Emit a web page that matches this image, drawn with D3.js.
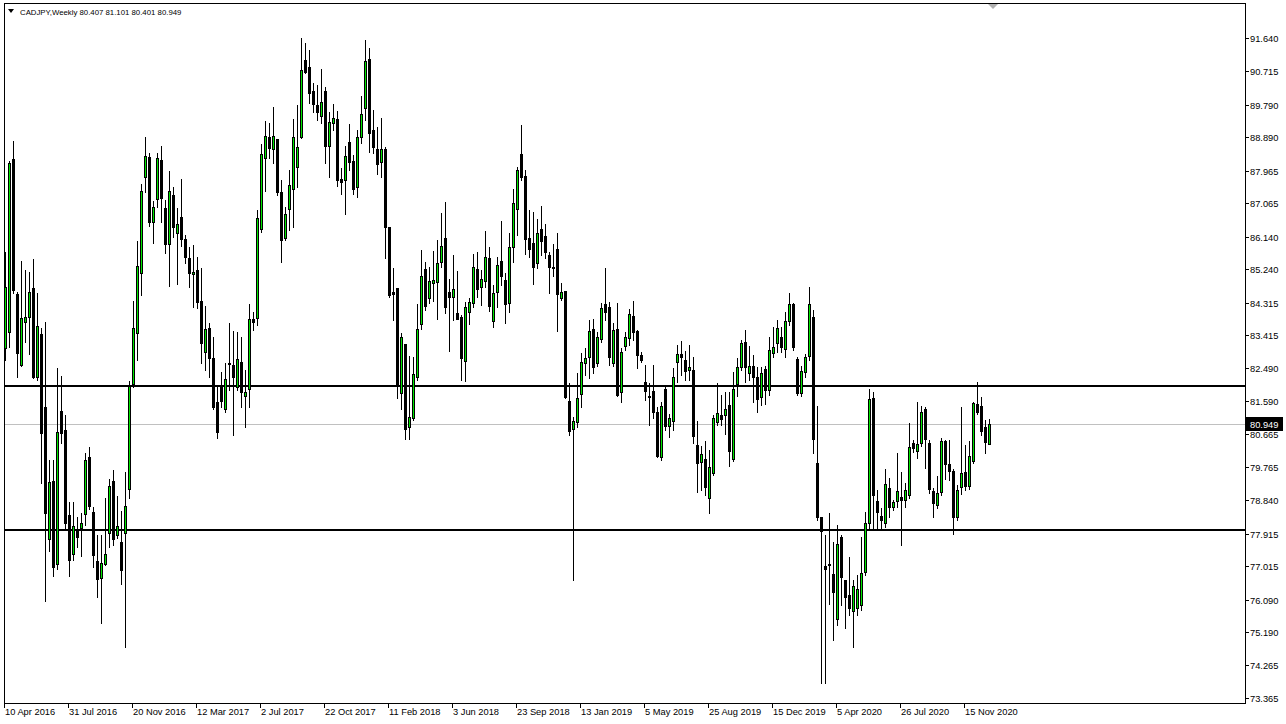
<!DOCTYPE html>
<html><head><meta charset="utf-8">
<script src="https://cdn.jsdelivr.net/npm/d3@7"></script>
<style>html,body{margin:0;padding:0;background:#fff;overflow:hidden}</style>
</head><body>
<svg id="c" width="1286" height="724"></svg>
<script>
const symbolTitle = "CADJPY,Weekly";
const open = [
83.06,83.50,88.29,84.55,82.59,83.78,83.91,84.72,82.25,83.44,
81.42,77.77,79.37,77.08,81.31,80.79,78.43,77.35,78.05,78.07,
78.46,80.04,78.52,77.16,76.69,77.08,77.93,79.37,77.88,77.69,
77.93,79.15,82.06,83.47,85.13,87.79,88.35,86.55,87.18,88.26,
86.93,85.94,87.29,86.24,86.68,86.07,85.55,85.11,85.22,84.36,
82.95,83.61,82.78,81.56,81.98,81.37,82.64,82.59,81.98,82.67,
81.73,81.92,83.86,83.89,86.35,88.32,88.90,88.57,88.84,87.38,
86.10,86.91,87.46,88.07,88.90,91.03,90.84,90.17,89.79,89.48,
90.17,88.65,89.29,89.40,87.74,87.71,88.76,88.23,87.51,88.90,
89.70,91.06,89.09,88.57,88.21,88.57,86.41,84.61,84.72,81.81,
83.17,80.87,81.12,82.25,83.72,85.24,84.44,84.86,84.88,85.44,
86.10,84.61,84.47,84.03,83.91,82.70,84.05,84.30,85.24,84.75,
84.91,85.55,83.80,84.61,85.47,84.94,84.30,85.85,86.91,88.43,
87.82,86.10,85.96,85.41,86.35,86.16,85.63,85.30,85.80,84.44,
84.63,81.59,80.81,81.01,81.78,82.64,82.81,83.58,82.64,83.31,
84.27,84.19,82.64,83.58,81.84,83.11,83.33,83.94,83.53,82.86,
82.12,81.73,81.87,81.28,80.04,81.92,80.90,81.03,82.67,82.89,
82.72,82.45,82.45,80.37,79.90,79.98,78.90,79.59,81.01,81.20,
81.20,81.48,79.98,82.06,82.53,83.22,82.36,82.56,82.25,81.70,
82.47,81.89,82.92,83.19,83.36,83.03,83.80,84.27,82.75,81.81,
82.39,82.83,83.91,79.87,78.38,77.02,77.08,76.80,75.55,77.82,
76.63,76.22,75.77,75.86,75.94,76.85,78.21,81.67,78.82,78.40,
78.21,79.18,78.65,78.82,78.93,78.85,78.99,80.43,80.20,80.43,
81.37,80.43,79.10,78.71,79.07,80.48,79.84,79.65,78.38,79.21,
79.62,79.24,79.93,81.51,81.45,80.87,80.407];
const high = [
85.72,88.23,88.79,84.61,85.47,85.22,85.16,85.52,84.58,83.61,
83.78,79.96,79.96,82.50,82.28,81.20,78.79,78.79,78.38,78.49,
80.15,80.32,78.65,77.88,77.88,78.90,79.43,79.68,78.96,78.54,
79.62,82.14,84.36,86.02,87.60,88.90,88.46,87.13,88.46,88.65,
87.15,87.96,87.51,86.93,87.74,86.19,85.85,85.91,85.58,85.27,
84.22,83.75,83.36,81.98,82.39,82.64,83.75,83.53,83.50,83.36,
82.45,84.27,84.05,86.88,88.70,89.34,89.29,89.73,88.85,87.71,
86.96,87.99,89.40,89.79,91.64,91.50,91.31,90.39,90.34,90.78,
90.28,89.59,89.81,89.62,88.04,88.65,89.26,88.40,89.09,90.03,
91.58,91.36,89.65,89.18,89.42,88.62,86.42,85.27,84.73,83.47,
83.18,82.84,82.81,84.27,85.77,85.44,85.30,85.74,86.05,86.79,
87.10,84.97,85.63,85.19,83.97,84.33,84.44,85.66,85.72,85.22,
86.30,85.85,84.80,85.58,86.57,85.13,86.24,87.46,88.07,89.23,
87.99,86.88,86.82,86.63,86.99,86.49,85.72,85.94,86.24,84.86,
84.64,82.09,81.15,82.36,82.92,83.06,83.83,83.86,83.50,84.30,
85.27,84.33,83.75,84.30,83.06,83.50,84.14,84.36,83.56,82.95,
82.59,82.09,82.59,81.42,81.56,81.98,81.23,82.50,83.14,83.25,
82.97,83.14,82.81,81.03,80.34,80.48,80.23,81.20,82.09,81.76,
81.84,81.84,82.39,82.78,83.28,83.55,83.11,82.86,82.53,82.53,
82.56,83.36,83.64,83.83,83.64,84.05,84.58,84.30,82.81,82.56,
82.89,84.75,84.11,81.45,78.39,77.88,78.49,77.69,78.16,77.88,
76.64,77.27,76.63,76.77,77.82,78.52,81.92,81.84,79.12,78.63,
79.71,79.46,78.85,80.15,79.62,79.32,80.98,80.51,81.56,81.45,
81.42,80.51,79.18,79.51,80.56,80.51,80.51,79.71,79.26,81.42,
80.37,80.48,81.56,82.12,81.70,81.06,81.101];
const low = [
82.72,83.08,84.58,82.25,82.56,83.22,82.89,82.23,82.17,79.32,
76.05,77.44,76.74,76.94,80.43,78.07,76.74,77.19,77.55,77.30,
78.16,78.60,76.99,76.16,75.44,77.05,77.55,77.60,77.80,76.52,
74.78,78.90,81.98,82.72,84.52,87.38,86.43,85.96,86.96,86.55,
85.69,84.77,86.13,84.83,85.88,85.41,84.75,84.19,84.16,82.64,
82.45,82.25,81.37,80.56,81.42,81.28,81.89,80.65,81.89,81.42,
80.87,81.42,83.55,83.69,86.27,87.40,88.32,88.18,87.29,85.44,
86.05,86.32,86.41,87.51,88.87,90.67,89.84,89.59,89.37,89.29,
88.18,87.79,89.09,87.54,87.32,86.77,87.99,87.32,87.24,88.73,
89.37,88.48,88.46,87.87,87.79,85.55,84.47,83.83,81.67,81.37,
80.54,80.54,81.06,82.17,83.58,84.11,84.30,84.36,83.86,85.30,
84.03,82.97,83.83,83.86,82.17,82.14,83.72,84.19,84.47,84.25,
84.75,84.08,83.64,84.19,84.80,83.75,84.05,85.44,86.19,87.71,
85.66,85.58,84.83,85.27,85.63,85.55,84.58,85.05,83.53,84.39,
81.67,80.65,76.63,80.87,81.42,82.31,82.23,82.36,82.56,83.22,
83.83,82.59,82.56,81.73,81.56,83.00,83.14,83.28,82.50,82.67,
81.62,80.92,81.12,80.04,79.96,80.79,80.59,80.79,82.12,82.31,
82.17,82.17,80.43,79.07,79.12,78.99,78.49,79.54,80.92,80.92,
80.68,79.79,79.93,81.73,82.45,82.12,82.17,81.56,81.28,81.48,
81.50,81.76,82.81,82.95,82.95,82.81,83.69,83.00,81.76,81.73,
82.25,82.72,80.15,78.29,73.78,73.78,75.97,74.97,75.39,75.94,
75.30,75.66,74.78,75.66,75.80,76.77,78.07,78.07,78.07,78.04,
78.10,78.38,78.57,78.65,77.60,78.65,78.90,80.18,80.01,80.34,
79.73,79.04,78.38,78.63,78.99,79.43,79.40,77.91,78.29,79.02,
79.12,79.15,79.87,81.23,80.65,80.15,80.401];
const close = [
84.75,88.18,84.66,82.92,83.89,83.91,84.61,82.25,83.67,80.70,
78.49,79.35,76.99,80.73,80.70,78.21,77.19,78.13,77.82,78.21,
79.96,78.68,77.33,76.66,77.10,77.35,79.24,77.77,78.13,76.91,
78.68,82.00,83.61,85.33,87.40,88.37,86.55,86.96,88.32,87.21,
85.94,87.40,86.41,86.49,86.07,85.58,85.13,85.16,84.33,83.20,
83.58,82.78,81.42,80.73,81.59,82.20,82.61,82.25,82.75,81.84,
81.84,83.86,83.78,86.66,88.43,88.93,88.59,88.93,87.38,86.05,
86.77,87.57,88.90,88.62,90.75,90.70,90.12,89.81,89.59,89.87,
88.65,89.31,89.42,87.71,87.65,88.37,88.21,87.46,88.90,89.54,
91.00,89.01,88.62,88.15,88.57,86.41,84.52,84.55,82.03,83.36,
80.81,81.15,82.34,83.58,85.05,84.22,84.91,84.94,85.41,85.88,
84.19,84.47,84.69,83.86,82.78,84.19,84.33,85.30,84.69,84.97,
85.58,84.22,84.58,85.36,85.05,84.27,85.85,87.07,87.99,87.79,
86.07,85.80,85.30,86.24,86.02,85.72,85.30,85.27,84.55,84.61,
81.69,80.76,81.03,81.67,82.67,82.78,83.53,82.53,83.36,84.16,
84.05,82.81,83.56,81.76,82.95,83.36,84.00,83.50,82.86,82.72,
81.87,81.70,81.28,80.07,81.45,80.90,81.12,82.25,82.89,82.81,
82.42,82.53,80.62,79.87,80.12,79.21,79.76,81.12,81.26,81.09,
81.37,80.20,81.92,82.53,83.19,82.53,82.56,82.25,81.64,82.36,
81.89,83.00,83.08,83.61,83.08,83.80,84.27,83.08,81.81,82.42,
82.81,84.27,80.54,78.38,77.99,76.94,77.06,76.30,77.63,76.71,
76.16,75.86,76.47,76.38,76.83,78.21,81.64,78.99,78.52,78.29,
79.29,78.65,78.79,79.10,78.85,79.12,80.32,80.29,80.40,81.28,
80.54,79.15,78.77,79.04,80.48,79.84,79.65,78.38,79.12,79.59,
79.24,80.07,81.53,81.28,80.76,80.45,80.949];
const priceTicks = ["91.640","90.715","89.790","88.890","87.965","87.065","86.140","85.240","84.315","83.415","82.490","81.590","80.665","79.765","78.840","77.915","77.015","76.090","75.190","74.265","73.365"];
const dateLabels = ["10 Apr 2016","31 Jul 2016","20 Nov 2016","12 Mar 2017","2 Jul 2017","22 Oct 2017","11 Feb 2018","3 Jun 2018","23 Sep 2018","13 Jan 2019","5 May 2019","25 Aug 2019","15 Dec 2019","5 Apr 2020","26 Jul 2020","15 Nov 2020"];
const dateLabelBars = [0,16,32,48,64,80,96,112,128,144,160,176,192,208,224,240];
const levelLines = [82.01, 78.03];
const lastPrice = 80.949;

const W = 1286, H = 724;
const plot = {left: 4, right: 1245, top: 3, bottom: 703};
const n = close.length;
const svg = d3.select("#c");
const FONT = "Liberation Sans, Arial, sans-serif";
const FS = 9.3;

const x = d3.scaleLinear().domain([0, n - 1]).range([5, 5 + 4 * (n - 1)]);
const y = d3.scaleLinear().domain([73.365, 91.640]).range([698, 38]);

svg.append("rect").attr("width", W).attr("height", H).attr("fill", "#fff");

const g = svg.append("g");
levelLines.forEach(v => {
  const yy = Math.round(y(v));
  g.append("rect").attr("x", plot.left).attr("y", yy - 1).attr("width", plot.right - plot.left).attr("height", 2).attr("fill", "#000");
});
g.append("rect").attr("x", plot.left).attr("y", Math.round(y(lastPrice))).attr("width", plot.right - plot.left).attr("height", 1).attr("fill", "#c0c0c0");

const cg = g.append("g");
d3.range(n).forEach(i => {
  const cx = Math.round(x(i));
  const o = open[i], c = close[i];
  const hi = Math.max(high[i], o, c), lo = Math.min(low[i], o, c);
  const yh = Math.round(y(hi)), yl = Math.round(y(lo));
  const yo = Math.round(y(o)), yc = Math.round(y(c));
  cg.append("rect").attr("x", cx).attr("y", yh).attr("width", 1).attr("height", Math.max(1, yl - yh + 1)).attr("fill", "#000");
  const top = Math.min(yo, yc), bot = Math.max(yo, yc);
  const bh = Math.max(1, bot - top + 1);
  cg.append("rect").attr("x", cx - 1).attr("y", top).attr("width", 3).attr("height", bh).attr("fill", "#000");
  if (c > o && bh > 2) {
    cg.append("rect").attr("x", cx).attr("y", top + 1).attr("width", 1).attr("height", bh - 2).attr("fill", "#00e600");
  }
});

svg.append("rect").attr("x", plot.left + 0.5).attr("y", plot.top + 0.5)
  .attr("width", plot.right - plot.left).attr("height", plot.bottom - plot.top)
  .attr("fill", "none").attr("stroke", "#000").attr("stroke-width", 1);

const pa = svg.append("g");
priceTicks.forEach(t => {
  const yy = Math.round(y(+t));
  pa.append("rect").attr("x", plot.right).attr("y", yy).attr("width", 4).attr("height", 1).attr("fill", "#000");
  pa.append("text").attr("x", 1250).attr("y", yy + 4).attr("font-family", FONT).attr("font-size", FS).attr("fill", "#000").text(t);
});
const ly = Math.round(y(lastPrice));
pa.append("rect").attr("x", plot.right + 1).attr("y", ly - 7).attr("width", 37).attr("height", 14).attr("fill", "#000");
pa.append("text").attr("x", 1250).attr("y", ly + 4).attr("font-family", FONT).attr("font-size", FS).attr("fill", "#fff").text(lastPrice.toFixed(3));

const ta = svg.append("g");
dateLabels.forEach((lab, k) => {
  const xx = Math.round(x(dateLabelBars[k]));
  ta.append("rect").attr("x", xx - 1).attr("y", plot.bottom).attr("width", 1).attr("height", 5).attr("fill", "#000");
  ta.append("text").attr("x", xx).attr("y", 715).attr("font-family", FONT).attr("font-size", FS).attr("fill", "#000").text(lab);
});

svg.append("path").attr("d", "M8,9 L14,9 L11,13 Z").attr("fill", "#000");
svg.append("text").attr("x", 20).attr("y", 15).attr("font-family", FONT).attr("font-size", 7.8).attr("fill", "#000")
  .text(symbolTitle + " " + [open[n-1], high[n-1], low[n-1], close[n-1]].map(v => v.toFixed(3)).join(" "));
svg.append("path").attr("d", "M988,4 L998,4 L993,9 Z").attr("fill", "#b0b0b0");
</script>
</body></html>
